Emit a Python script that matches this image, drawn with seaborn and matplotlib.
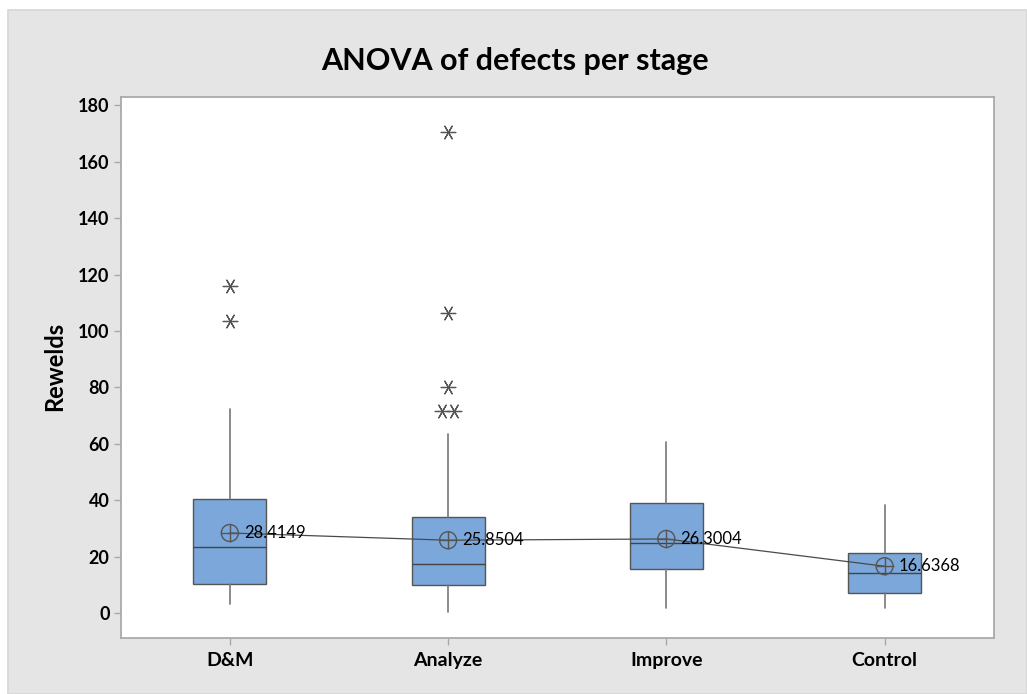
import matplotlib
matplotlib.use("Agg")
import matplotlib.pyplot as plt
import seaborn as sns
import pandas as pd
import numpy as np
from matplotlib.patches import Rectangle

# ---- data ----
stages = ["D&M", "Analyze", "Improve", "Control"]
q1 = [10.5, 9.9, 15.6, 7.3]
medians = [23.3, 17.6, 24.7, 14.4]
q3 = [40.5, 34.1, 39.2, 21.4]
whisker_low = [3.1, 0.5, 1.8, 1.8]
whisker_high = [72.3, 63.4, 60.8, 38.5]
means = [28.4149, 25.8504, 26.3004, 16.6368]
outlier_stage = ["D&M", "D&M", "Analyze", "Analyze", "Analyze", "Analyze", "Analyze"]
outlier_value = [116.1, 103.7, 170.6, 106.2, 80.0, 71.7, 71.7]
yticks = [0, 20, 40, 60, 80, 100, 120, 140, 160, 180]
title = "ANOVA of defects per stage"
ylabel = "Rewelds"

sns.set_style("white")
plt.rcParams["font.family"] = ["Lato", "DejaVu Sans"]
plt.rcParams["text.color"] = "black"
plt.rcParams["xtick.color"] = "black"
plt.rcParams["ytick.color"] = "black"

W, H = 1027, 694
fig = plt.figure(figsize=(W / 100, H / 100), dpi=100, facecolor="white")
bg = Rectangle((8 / W, 0), 1 - 8 / W, 1 - 10 / H, transform=fig.transFigure,
               facecolor="#e5e5e5", edgecolor="#d6d6d6", lw=1.2, zorder=-10)
fig.patches.append(bg)

ax = fig.add_axes([120.7 / W, 1 - 638.3 / H, (993.7 - 120.7) / W, (638.3 - 97) / H])
ax.set_facecolor("white")

pos = np.arange(len(stages))
stats = []
for i, s in enumerate(stages):
    stats.append(dict(label=s, q1=q1[i], med=medians[i], q3=q3[i],
                      whislo=whisker_low[i], whishi=whisker_high[i], fliers=[]))
ax.bxp(stats, positions=pos, widths=0.335, patch_artist=True, showcaps=False,
       showfliers=False,
       boxprops=dict(facecolor="#7BA7DA", edgecolor="#555555", linewidth=1.0),
       medianprops=dict(color="#444444", linewidth=1.0),
       whiskerprops=dict(color="#777777", linewidth=1.2))

# outliers (ties dodged side by side, as Minitab does)
odf = pd.DataFrame({"stage": outlier_stage, "value": outlier_value})
odf["x"] = odf["stage"].map({s: i for i, s in enumerate(stages)}).astype(float)
dup_rank = odf.groupby(["stage", "value"]).cumcount()
dup_n = odf.groupby(["stage", "value"])["value"].transform("count")
odf["x"] = odf["x"] + (dup_rank - (dup_n - 1) / 2) * 0.058
sns.scatterplot(data=odf, x="x", y="value", marker=(6, 2, 90), s=110,
                color="#555555", linewidth=0.9, ax=ax, zorder=5, legend=False)

# mean connect line + markers
mdf = pd.DataFrame({"x": pos, "mean": means})
sns.lineplot(data=mdf, x="x", y="mean", color="#4a4a4a", lw=0.9, ax=ax, zorder=6)
sns.scatterplot(data=mdf, x="x", y="mean", marker="o", s=150, facecolor="none",
                edgecolor="#555555", linewidth=1.0, ax=ax, zorder=7, legend=False)
sns.scatterplot(data=mdf, x="x", y="mean", marker="+", s=150, color="#555555",
                linewidth=1.0, ax=ax, zorder=7, legend=False)
for x, m in zip(pos, means):
    ax.text(x + 0.065, m, f"{m:.4f}", fontsize=12, va="center", ha="left",
            color="black", zorder=8)

ax.set_xlim(-0.5, 3.5)
ax.set_ylim(-8.9, 182.9)
ax.set_xticks(pos)
ax.set_xticklabels(stages, fontsize=14, fontweight="bold")
ax.set_yticks(yticks)
ax.set_yticklabels([str(t) for t in yticks], fontsize=13, fontweight="bold")
ax.set_xlabel("")
ax.set_ylabel("")
ax.tick_params(axis="both", direction="out", length=5, width=1, color="#a8a8a8",
               labelcolor="black", pad=3, left=True, bottom=True)
ax.tick_params(axis="x", pad=5)
for sp in ax.spines.values():
    sp.set_color("#aaaaaa")
    sp.set_linewidth(1.3)
    sp.set_visible(True)

fig.text(515 / W, 1 - 61 / H, title, fontsize=22, fontweight="bold",
         ha="center", va="center", color="black")
fig.text(55 / W, 1 - 366 / H, ylabel, fontsize=17, fontweight="bold",
         ha="center", va="center", rotation=90, color="black")

fig.savefig("out.png", dpi=100, facecolor=fig.get_facecolor())
